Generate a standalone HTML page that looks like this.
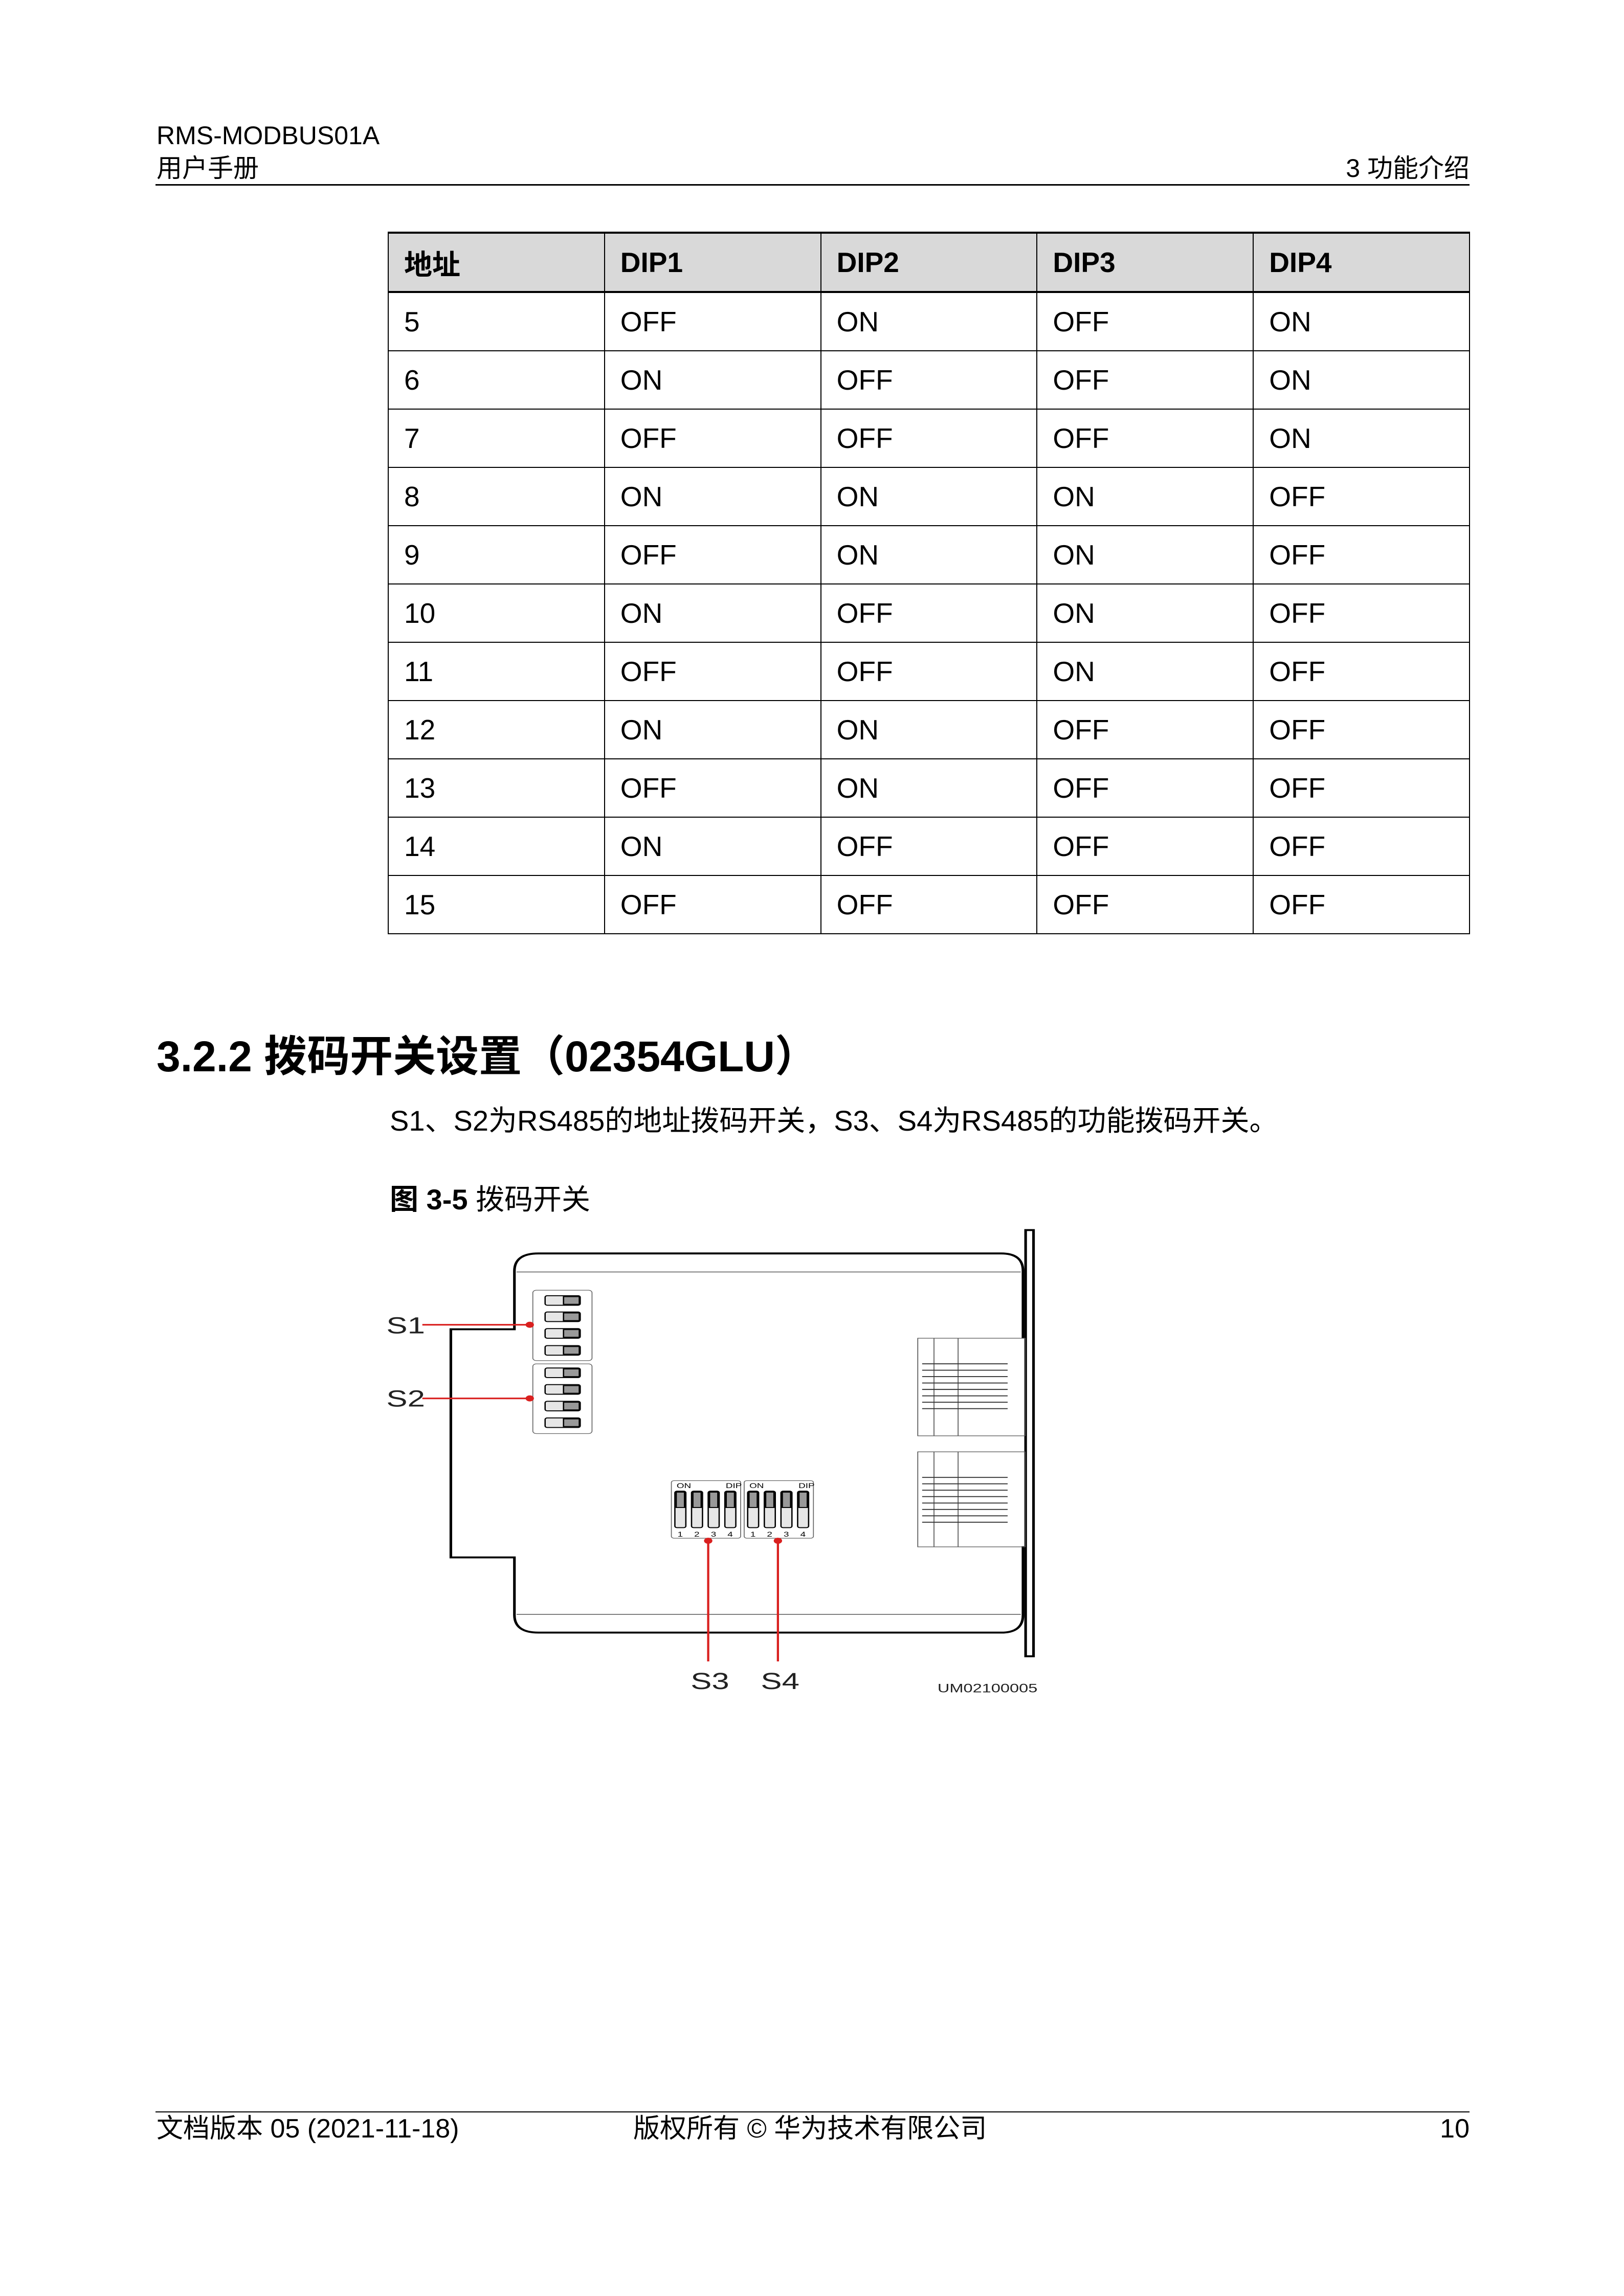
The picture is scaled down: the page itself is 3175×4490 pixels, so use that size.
<!DOCTYPE html>
<html><head><meta charset="utf-8"><style>
html,body{margin:0;padding:0;background:#fff}
body{width:3175px;height:4490px;position:relative;overflow:hidden;font-family:"Liberation Sans","Noto Sans CJK SC",sans-serif;color:#000}
.t{position:absolute;white-space:nowrap;line-height:1}
table{position:absolute;left:758px;top:453px;width:2116px;border-collapse:collapse;table-layout:fixed}
td{border:2px solid #000;height:112px;padding:0 0 0 30px;font-size:55px;vertical-align:middle}
tr.h td{background:#d9d9d9;font-weight:bold;border-top:4px solid #000;border-bottom:4px solid #000}
</style></head><body>
<div class="t" style="left:306px;top:240px;font-size:50px">RMS-MODBUS01A</div>
<div class="t" style="left:306px;top:304px;font-size:50px">用户手册</div>
<div class="t" style="right:302px;top:304px;font-size:50px">3 功能介绍</div>
<div style="position:absolute;left:304px;top:360px;width:2569px;height:3px;background:#000"></div>

<table>
<tr class="h"><td>地址</td><td>DIP1</td><td>DIP2</td><td>DIP3</td><td>DIP4</td></tr>
<tr><td>5</td><td>OFF</td><td>ON</td><td>OFF</td><td>ON</td></tr>
<tr><td>6</td><td>ON</td><td>OFF</td><td>OFF</td><td>ON</td></tr>
<tr><td>7</td><td>OFF</td><td>OFF</td><td>OFF</td><td>ON</td></tr>
<tr><td>8</td><td>ON</td><td>ON</td><td>ON</td><td>OFF</td></tr>
<tr><td>9</td><td>OFF</td><td>ON</td><td>ON</td><td>OFF</td></tr>
<tr><td>10</td><td>ON</td><td>OFF</td><td>ON</td><td>OFF</td></tr>
<tr><td>11</td><td>OFF</td><td>OFF</td><td>ON</td><td>OFF</td></tr>
<tr><td>12</td><td>ON</td><td>ON</td><td>OFF</td><td>OFF</td></tr>
<tr><td>13</td><td>OFF</td><td>ON</td><td>OFF</td><td>OFF</td></tr>
<tr><td>14</td><td>ON</td><td>OFF</td><td>OFF</td><td>OFF</td></tr>
<tr><td>15</td><td>OFF</td><td>OFF</td><td>OFF</td><td>OFF</td></tr>
</table>

<div class="t" style="left:306px;top:2024px;font-size:84px;font-weight:bold">3.2.2 拨码开关设置（02354GLU）</div>
<div class="t" style="left:762px;top:2164px;font-size:56px">S1、S2为RS485的地址拨码开关，S3、S4为RS485的功能拨码开关。</div>
<div class="t" style="left:762px;top:2318px;font-size:56px"><b>图 3-5</b> 拨码开关</div>

<svg style="position:absolute;left:740px;top:2398px" width="1320" height="958" viewBox="0 0 1540 1531" preserveAspectRatio="none">
<g fill="none" stroke="#000">
<rect x="1476" y="12" width="18" height="1332" stroke-width="6" fill="#fff"/>
<path d="M1470,350 L1470,140 Q1470,85 1420,85 L365,85 Q310,85 310,140 L310,322 L165,322 L165,1035 L310,1035 L310,1215 Q310,1270 365,1270 L1420,1270 Q1470,1270 1470,1215 L1470,1000" stroke-width="6"/>
<line x1="315" y1="143" x2="1465" y2="143" stroke="#777" stroke-width="3"/>
<line x1="315" y1="1213" x2="1465" y2="1213" stroke="#777" stroke-width="3"/>
<g stroke-width="2" stroke="#555">
<rect x="1230" y="350" width="245" height="305"/><line x1="1267" y1="350" x2="1267" y2="655"/><line x1="1322" y1="350" x2="1322" y2="655"/>
<rect x="1230" y="705" width="245" height="297"/><line x1="1267" y1="705" x2="1267" y2="1002"/><line x1="1322" y1="705" x2="1322" y2="1002"/>
</g>
<g stroke-width="3" stroke="#333">
<path d="M1240,430h195M1240,450h195M1240,470h195M1240,490h195M1240,510h195M1240,530h195M1240,550h195M1240,570h195"/>
<path d="M1240,785h195M1240,805h195M1240,825h195M1240,845h195M1240,865h195M1240,885h195M1240,905h195M1240,925h195"/>
</g>
<g stroke-width="2" stroke="#666">
<rect x="352" y="200" width="135" height="220" rx="8"/><rect x="352" y="430" width="135" height="218" rx="8"/>
<rect x="668" y="795" width="158" height="180" rx="6"/><rect x="834" y="795" width="158" height="180" rx="6"/>
</g>
</g>
<g stroke="#000" stroke-width="3">
<g fill="#e6e6e6"><rect x="380" y="217" width="80" height="30" rx="5"/><rect x="380" y="268" width="80" height="30" rx="5"/><rect x="380" y="320" width="80" height="30" rx="5"/><rect x="380" y="373" width="80" height="30" rx="5"/>
<rect x="380" y="443" width="80" height="30" rx="5"/><rect x="380" y="495" width="80" height="30" rx="5"/><rect x="380" y="547" width="80" height="30" rx="5"/><rect x="380" y="599" width="80" height="30" rx="5"/>
<rect x="676" y="828" width="25" height="114" rx="5"/><rect x="714" y="828" width="25" height="114" rx="5"/><rect x="752" y="828" width="25" height="114" rx="5"/><rect x="790" y="828" width="25" height="114" rx="5"/>
<rect x="842" y="828" width="25" height="114" rx="5"/><rect x="880" y="828" width="25" height="114" rx="5"/><rect x="918" y="828" width="25" height="114" rx="5"/><rect x="956" y="828" width="25" height="114" rx="5"/></g>
<g fill="#999"><rect x="422" y="220" width="36" height="24"/><rect x="422" y="271" width="36" height="24"/><rect x="422" y="323" width="36" height="24"/><rect x="422" y="376" width="36" height="24"/>
<rect x="422" y="446" width="36" height="24"/><rect x="422" y="498" width="36" height="24"/><rect x="422" y="550" width="36" height="24"/><rect x="422" y="602" width="36" height="24"/>
<rect x="679" y="831" width="19" height="48"/><rect x="717" y="831" width="19" height="48"/><rect x="755" y="831" width="19" height="48"/><rect x="793" y="831" width="19" height="48"/>
<rect x="845" y="831" width="19" height="48"/><rect x="883" y="831" width="19" height="48"/><rect x="921" y="831" width="19" height="48"/><rect x="959" y="831" width="19" height="48"/></g>
</g>
<g font-family="Liberation Sans" font-size="22" fill="#000">
<text x="680" y="818">ON</text><text x="792" y="818">DIP</text><text x="846" y="818">ON</text><text x="958" y="818">DIP</text>
<text x="682" y="970">1</text><text x="720" y="970">2</text><text x="758" y="970">3</text><text x="796" y="970">4</text>
<text x="848" y="970">1</text><text x="886" y="970">2</text><text x="924" y="970">3</text><text x="962" y="970">4</text>
</g>
<g stroke="#d9201f" stroke-width="5" fill="#d9201f">
<line x1="100" y1="308" x2="345" y2="308"/><circle cx="345" cy="308" r="7"/>
<line x1="100" y1="538" x2="345" y2="538"/><circle cx="345" cy="538" r="7"/>
<line x1="752" y1="983" x2="752" y2="1360"/><circle cx="752" cy="983" r="7"/>
<line x1="911" y1="983" x2="911" y2="1360"/><circle cx="911" cy="983" r="7"/>
</g>
<g font-family="Liberation Sans" fill="#222" font-size="72">
<text x="18" y="335">S1</text><text x="18" y="563">S2</text>
<text x="712" y="1446">S3</text><text x="872" y="1446">S4</text>
</g>
<text x="1275" y="1457" font-family="Liberation Sans" font-size="38" fill="#222">UM02100005</text>
</svg>

<div style="position:absolute;left:304px;top:4129px;width:2569px;height:2px;background:#000"></div>
<div class="t" style="left:306px;top:4137px;font-size:52px">文档版本 05 (2021-11-18)</div>
<div class="t" style="left:1238px;top:4137px;font-size:52px">版权所有 © 华为技术有限公司</div>
<div class="t" style="right:302px;top:4137px;font-size:52px">10</div>
</body></html>
